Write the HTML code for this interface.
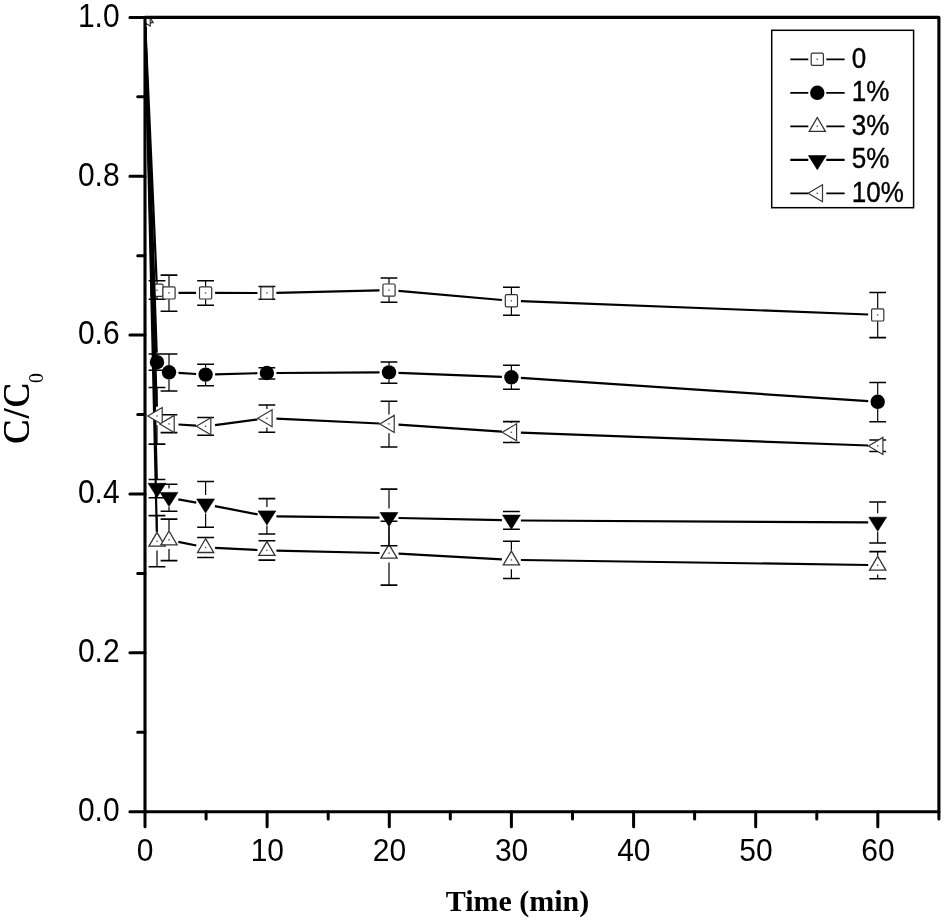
<!DOCTYPE html>
<html><head><meta charset="utf-8"><title>C/C0 vs Time</title>
<style>html,body{margin:0;padding:0;background:#fff}svg{display:block}</style></head>
<body>
<svg width="944" height="921" viewBox="0 0 944 921">
<rect width="944" height="921" fill="#fff"/>
<defs><clipPath id="pc"><rect x="145.0" y="17.4" width="793.9" height="794.3000000000001"/></clipPath></defs>
<g clip-path="url(#pc)">
<path d="M145.4 27.0L156.6 280.7M178.5 292.9L196.1 292.9M215.1 292.9L257.4 293.0M276.4 292.8L379.5 290.3M398.5 290.9L501.9 300.0M520.9 301.2L868.2 314.5" stroke="#000" stroke-width="2.2" fill="none"/>
<path d="M157.0 280.8V283.9M157.0 296.5V299.2M169.0 275.1V286.6M169.0 299.2V311.3M205.6 280.8V286.6M205.6 299.2V305.3M266.9 286.5V286.7M389.0 277.9V283.8M389.0 296.4V302.2M511.4 287.3V294.5M511.4 307.1V315.2M877.7 292.4V308.6M877.7 321.2V337.6" stroke="#000" stroke-width="1.2" fill="none"/>
<path d="M148.6 280.8H165.4M148.6 299.2H165.4M160.6 275.1H177.4M160.6 311.3H177.4M197.2 280.8H214.0M197.2 305.3H214.0M258.5 286.5H275.3M258.5 299.3H275.3M380.6 277.9H397.4M380.6 302.2H397.4M503.0 287.3H519.8M503.0 315.2H519.8M869.3 292.4H886.1M869.3 337.6H886.1" stroke="#000" stroke-width="1.55" fill="none"/>
<rect x="138.9" y="11.4" width="12.2" height="12.2" rx="1.3" fill="#fff" stroke="#333" stroke-width="1.2"/><rect x="144.3" y="16.8" width="1.4" height="1.4" fill="#555"/>
<rect x="150.9" y="284.1" width="12.2" height="12.2" rx="1.3" fill="#fff" stroke="#333" stroke-width="1.2"/><rect x="156.3" y="289.5" width="1.4" height="1.4" fill="#555"/>
<rect x="162.9" y="286.8" width="12.2" height="12.2" rx="1.3" fill="#fff" stroke="#333" stroke-width="1.2"/><rect x="168.3" y="292.2" width="1.4" height="1.4" fill="#555"/>
<rect x="199.5" y="286.8" width="12.2" height="12.2" rx="1.3" fill="#fff" stroke="#333" stroke-width="1.2"/><rect x="204.9" y="292.2" width="1.4" height="1.4" fill="#555"/>
<rect x="260.8" y="286.9" width="12.2" height="12.2" rx="1.3" fill="#fff" stroke="#333" stroke-width="1.2"/><rect x="266.2" y="292.3" width="1.4" height="1.4" fill="#555"/>
<rect x="382.9" y="284.0" width="12.2" height="12.2" rx="1.3" fill="#fff" stroke="#333" stroke-width="1.2"/><rect x="388.3" y="289.4" width="1.4" height="1.4" fill="#555"/>
<rect x="505.3" y="294.7" width="12.2" height="12.2" rx="1.3" fill="#fff" stroke="#333" stroke-width="1.2"/><rect x="510.7" y="300.1" width="1.4" height="1.4" fill="#555"/>
<rect x="871.6" y="308.8" width="12.2" height="12.2" rx="1.3" fill="#fff" stroke="#333" stroke-width="1.2"/><rect x="877.0" y="314.2" width="1.4" height="1.4" fill="#555"/>
<path d="M145.3 27.0L156.7 352.7M178.5 372.9L196.1 374.0M215.1 374.4L257.4 373.2M276.4 373.0L379.5 372.4M398.5 372.8L501.9 376.9M520.9 377.9L868.2 401.2" stroke="#000" stroke-width="2.2" fill="none"/>
<path d="M157.0 354.0V355.0M157.0 369.4V370.2M169.0 354.0V365.1M169.0 379.5V390.9M205.6 364.3V367.4M205.6 381.8V385.8M389.0 361.9V365.2M389.0 379.6V383.3M511.4 365.2V370.1M511.4 384.5V389.2M877.7 382.4V394.6M877.7 409.0V421.8" stroke="#000" stroke-width="1.2" fill="none"/>
<path d="M148.6 354.0H165.4M148.6 370.2H165.4M160.6 354.0H177.4M160.6 390.9H177.4M197.2 364.3H214.0M197.2 385.8H214.0M258.5 367.8H275.3M258.5 378.9H275.3M380.6 361.9H397.4M380.6 383.3H397.4M503.0 365.2H519.8M503.0 389.2H519.8M869.3 382.4H886.1M869.3 421.8H886.1" stroke="#000" stroke-width="1.55" fill="none"/>
<circle cx="145.0" cy="17.5" r="7.2" fill="#000"/>
<circle cx="157.0" cy="362.2" r="7.2" fill="#000"/>
<circle cx="169.0" cy="372.3" r="7.2" fill="#000"/>
<circle cx="205.6" cy="374.6" r="7.2" fill="#000"/>
<circle cx="266.9" cy="373.0" r="7.2" fill="#000"/>
<circle cx="389.0" cy="372.4" r="7.2" fill="#000"/>
<circle cx="511.4" cy="377.3" r="7.2" fill="#000"/>
<circle cx="877.7" cy="401.8" r="7.2" fill="#000"/>
<path d="M145.2 27.0L156.8 531.7M178.3 541.8L196.3 545.5M215.1 547.9L257.4 550.0M276.4 550.6L379.5 553.0M398.5 553.7L501.9 559.4M520.9 560.0L868.2 565.0" stroke="#000" stroke-width="2.2" fill="none"/>
<path d="M157.0 515.6V531.9M157.0 550.5V566.8M169.0 519.1V530.5M169.0 549.1V560.6M205.6 537.5V538.2M205.6 556.8V557.4M266.9 540.7V541.1M266.9 559.7V560.1M389.0 521.3V543.9M389.0 562.5V585.1M511.4 541.3V550.6M511.4 569.2V578.4M877.7 551.6V555.8M877.7 574.4V578.7" stroke="#000" stroke-width="1.2" fill="none"/>
<path d="M148.6 515.6H165.4M148.6 566.8H165.4M160.6 519.1H177.4M160.6 560.6H177.4M197.2 537.5H214.0M197.2 557.4H214.0M258.5 540.7H275.3M258.5 560.1H275.3M380.6 521.3H397.4M380.6 585.1H397.4M503.0 541.3H519.8M503.0 578.4H519.8M869.3 551.6H886.1M869.3 578.7H886.1" stroke="#000" stroke-width="1.55" fill="none"/>
<polygon points="145.0,8.7 153.1,22.5 136.9,22.5" fill="#fff" stroke="#333" stroke-width="1.3"/><rect x="144.3" y="16.8" width="1.4" height="1.4" fill="#555"/>
<polygon points="157.0,532.4 165.1,546.2 148.9,546.2" fill="#fff" stroke="#333" stroke-width="1.3"/><rect x="156.3" y="540.5" width="1.4" height="1.4" fill="#555"/>
<polygon points="169.0,531.0 177.1,544.8 160.9,544.8" fill="#fff" stroke="#333" stroke-width="1.3"/><rect x="168.3" y="539.1" width="1.4" height="1.4" fill="#555"/>
<polygon points="205.6,538.7 213.7,552.5 197.5,552.5" fill="#fff" stroke="#333" stroke-width="1.3"/><rect x="204.9" y="546.8" width="1.4" height="1.4" fill="#555"/>
<polygon points="266.9,541.6 275.0,555.4 258.8,555.4" fill="#fff" stroke="#333" stroke-width="1.3"/><rect x="266.2" y="549.7" width="1.4" height="1.4" fill="#555"/>
<polygon points="389.0,544.4 397.1,558.2 380.9,558.2" fill="#fff" stroke="#333" stroke-width="1.3"/><rect x="388.3" y="552.5" width="1.4" height="1.4" fill="#555"/>
<polygon points="511.4,551.1 519.5,564.9 503.3,564.9" fill="#fff" stroke="#333" stroke-width="1.3"/><rect x="510.7" y="559.2" width="1.4" height="1.4" fill="#555"/>
<polygon points="877.7,556.3 885.8,570.1 869.6,570.1" fill="#fff" stroke="#333" stroke-width="1.3"/><rect x="877.0" y="564.4" width="1.4" height="1.4" fill="#555"/>
<path d="M145.2 27.0L156.8 479.1M178.3 499.4L196.3 502.6M214.9 506.1L257.6 514.4M276.4 516.3L379.5 517.7M398.5 518.0L501.9 520.2M520.9 520.5L868.2 522.4" stroke="#000" stroke-width="2.2" fill="none"/>
<path d="M169.0 484.2V488.4M169.0 507.0V511.2M205.6 481.5V495.0M205.6 513.6V527.2M266.9 498.6V506.9M266.9 525.5V533.9M389.0 489.1V508.5M389.0 527.1V545.8M877.7 502.0V513.2M877.7 531.8V542.9" stroke="#000" stroke-width="1.2" fill="none"/>
<path d="M148.6 479.5H165.4M148.6 497.7H165.4M160.6 484.2H177.4M160.6 511.2H177.4M197.2 481.5H214.0M197.2 527.2H214.0M258.5 498.6H275.3M258.5 533.9H275.3M380.6 489.1H397.4M380.6 545.8H397.4M503.0 511.5H519.8M503.0 529.2H519.8M869.3 502.0H886.1M869.3 542.9H886.1" stroke="#000" stroke-width="1.55" fill="none"/>
<polygon points="145.0,26.3 153.9,12.2 136.1,12.2" fill="#000" stroke="#000" stroke-width="0.6"/>
<polygon points="157.0,497.4 165.9,483.3 148.1,483.3" fill="#000" stroke="#000" stroke-width="0.6"/>
<polygon points="169.0,506.5 177.9,492.4 160.1,492.4" fill="#000" stroke="#000" stroke-width="0.6"/>
<polygon points="205.6,513.1 214.5,499.0 196.7,499.0" fill="#000" stroke="#000" stroke-width="0.6"/>
<polygon points="266.9,525.0 275.8,510.9 258.0,510.9" fill="#000" stroke="#000" stroke-width="0.6"/>
<polygon points="389.0,526.6 397.9,512.5 380.1,512.5" fill="#000" stroke="#000" stroke-width="0.6"/>
<polygon points="511.4,529.2 520.3,515.1 502.5,515.1" fill="#000" stroke="#000" stroke-width="0.6"/>
<polygon points="877.7,531.3 886.6,517.2 868.8,517.2" fill="#000" stroke="#000" stroke-width="0.6"/>
<path d="M145.3 27.0L156.7 406.5M178.5 424.5L196.1 425.7M215.0 425.1L257.5 419.5M276.4 418.7L379.5 423.5M398.5 424.6L501.9 431.6M520.9 432.7L868.2 445.5" stroke="#000" stroke-width="2.2" fill="none"/>
<path d="M157.0 387.4V406.7M157.0 425.3V444.1M266.9 405.0V409.0M266.9 427.6V432.2M389.0 401.3V414.6M389.0 433.2V447.0M511.4 421.6V423.0M511.4 441.6V442.5" stroke="#000" stroke-width="1.2" fill="none"/>
<path d="M148.6 387.4H165.4M148.6 444.1H165.4M160.6 414.7H177.4M160.6 432.6H177.4M197.2 417.5H214.0M197.2 435.3H214.0M258.5 405.0H275.3M258.5 432.2H275.3M380.6 401.3H397.4M380.6 447.0H397.4M503.0 421.6H519.8M503.0 442.5H519.8M869.3 440.0H886.1M869.3 451.4H886.1" stroke="#000" stroke-width="1.55" fill="none"/>
<polygon points="135.8,17.5 150.2,9.0 150.2,26.0" fill="#fff" stroke="#333" stroke-width="1.2"/><rect x="144.3" y="16.8" width="1.4" height="1.4" fill="#555"/>
<polygon points="147.8,416.0 162.2,407.5 162.2,424.5" fill="#fff" stroke="#333" stroke-width="1.2"/><rect x="156.3" y="415.3" width="1.4" height="1.4" fill="#555"/>
<polygon points="159.8,423.9 174.2,415.4 174.2,432.4" fill="#fff" stroke="#333" stroke-width="1.2"/><rect x="168.3" y="423.2" width="1.4" height="1.4" fill="#555"/>
<polygon points="196.4,426.3 210.8,417.8 210.8,434.8" fill="#fff" stroke="#333" stroke-width="1.2"/><rect x="204.9" y="425.6" width="1.4" height="1.4" fill="#555"/>
<polygon points="257.7,418.3 272.1,409.8 272.1,426.8" fill="#fff" stroke="#333" stroke-width="1.2"/><rect x="266.2" y="417.6" width="1.4" height="1.4" fill="#555"/>
<polygon points="379.8,423.9 394.2,415.4 394.2,432.4" fill="#fff" stroke="#333" stroke-width="1.2"/><rect x="388.3" y="423.2" width="1.4" height="1.4" fill="#555"/>
<polygon points="502.2,432.3 516.6,423.8 516.6,440.8" fill="#fff" stroke="#333" stroke-width="1.2"/><rect x="510.7" y="431.6" width="1.4" height="1.4" fill="#555"/>
<polygon points="868.5,445.9 882.9,437.4 882.9,454.4" fill="#fff" stroke="#333" stroke-width="1.2"/><rect x="877.0" y="445.2" width="1.4" height="1.4" fill="#555"/>
</g>
<rect x="145.0" y="17.4" width="793.9" height="794.3000000000001" fill="none" stroke="#000" stroke-width="3.1" stroke-linejoin="round"/>
<path d="M145.0 811.7h-15.1M145.0 732.3h-7.3M145.0 652.8h-15.1M145.0 573.4h-7.3M145.0 494.0h-15.1M145.0 414.6h-7.3M145.0 335.1h-15.1M145.0 255.7h-7.3M145.0 176.3h-15.1M145.0 96.8h-7.3M145.0 17.4h-15.1M145.0 811.7v15.1M206.1 811.7v7.3M267.1 811.7v15.1M328.2 811.7v7.3M389.3 811.7v15.1M450.3 811.7v7.3M511.4 811.7v15.1M572.5 811.7v7.3M633.6 811.7v15.1M694.6 811.7v7.3M755.7 811.7v15.1M816.8 811.7v7.3M877.8 811.7v15.1M938.9 811.7v7.3" stroke="#000" stroke-width="3" fill="none" stroke-linecap="round"/>
<g font-family="Liberation Sans, Arial, sans-serif" font-size="30" fill="#000">
<text transform="translate(119.6,821.0) scale(1,1.08)" text-anchor="end">0.0</text>
<text transform="translate(119.6,662.1) scale(1,1.08)" text-anchor="end">0.2</text>
<text transform="translate(119.6,503.3) scale(1,1.08)" text-anchor="end">0.4</text>
<text transform="translate(119.6,344.4) scale(1,1.08)" text-anchor="end">0.6</text>
<text transform="translate(119.6,185.6) scale(1,1.08)" text-anchor="end">0.8</text>
<text transform="translate(119.6,26.7) scale(1,1.08)" text-anchor="end">1.0</text>
<text transform="translate(145.2,861.0) scale(1,1.07)" text-anchor="middle">0</text>
<text transform="translate(267.3,861.0) scale(1,1.07)" text-anchor="middle">10</text>
<text transform="translate(389.5,861.0) scale(1,1.07)" text-anchor="middle">20</text>
<text transform="translate(511.6,861.0) scale(1,1.07)" text-anchor="middle">30</text>
<text transform="translate(633.8,861.0) scale(1,1.07)" text-anchor="middle">40</text>
<text transform="translate(755.9,861.0) scale(1,1.07)" text-anchor="middle">50</text>
<text transform="translate(878.0,861.0) scale(1,1.07)" text-anchor="middle">60</text>
</g>
<text x="517.5" y="911" text-anchor="middle" font-family="Liberation Serif, Times New Roman, serif" font-weight="bold" font-size="30">Time (min)</text>
<text transform="translate(29.0,444.0) rotate(-90) scale(1,1.04)" font-family="Liberation Serif, Times New Roman, serif" font-size="36" letter-spacing="1.3">C/C</text>
<text transform="translate(29.0,443.3) rotate(-90) scale(1,1.04)" font-family="Liberation Serif, Times New Roman, serif" font-size="36" letter-spacing="1.3">C/C</text>
<text transform="translate(43.2,382.9) rotate(-90) scale(0.9,1.0)" font-family="Liberation Serif, Times New Roman, serif" font-size="22">0</text>
<rect x="771.7" y="30.3" width="141.9" height="177.4" fill="#fff" stroke="#000" stroke-width="1.5"/>
<path d="M790.3 59.3H808.3M826.3 59.3H844.6" stroke="#000" stroke-width="1.7"/>
<rect x="811.2" y="53.2" width="12.2" height="12.2" rx="1.3" fill="#fff" stroke="#333" stroke-width="1.2"/><rect x="816.6" y="58.6" width="1.4" height="1.4" fill="#555"/>
<text transform="translate(851.8,67.9) scale(1,1.105)" font-family="Liberation Sans, Arial, sans-serif" font-size="26" stroke="#000" stroke-width="0.35">0</text>
<path d="M790.3 92.8H808.3M826.3 92.8H844.6" stroke="#000" stroke-width="1.7"/>
<circle cx="817.3" cy="92.8" r="7.2" fill="#000"/>
<text transform="translate(851.8,101.4) scale(1,1.105)" font-family="Liberation Sans, Arial, sans-serif" font-size="26" stroke="#000" stroke-width="0.35">1%</text>
<path d="M790.3 126.3H808.3M826.3 126.3H844.6" stroke="#000" stroke-width="1.7"/>
<polygon points="817.3,117.5 825.4,131.3 809.2,131.3" fill="#fff" stroke="#333" stroke-width="1.3"/><rect x="816.6" y="125.6" width="1.4" height="1.4" fill="#555"/>
<text transform="translate(851.8,134.9) scale(1,1.105)" font-family="Liberation Sans, Arial, sans-serif" font-size="26" stroke="#000" stroke-width="0.35">3%</text>
<path d="M790.3 159.8H808.3M826.3 159.8H844.6" stroke="#000" stroke-width="2.2"/>
<polygon points="817.3,169.7 826.2,155.6 808.4,155.6" fill="#000" stroke="#000" stroke-width="0.6"/>
<text transform="translate(851.8,168.4) scale(1,1.105)" font-family="Liberation Sans, Arial, sans-serif" font-size="26" stroke="#000" stroke-width="0.35">5%</text>
<path d="M790.3 193.3H808.3M826.3 193.3H844.6" stroke="#000" stroke-width="1.7"/>
<polygon points="808.1,193.3 822.5,184.8 822.5,201.8" fill="#fff" stroke="#333" stroke-width="1.2"/><rect x="816.6" y="192.6" width="1.4" height="1.4" fill="#555"/>
<text transform="translate(851.8,201.9) scale(1,1.105)" font-family="Liberation Sans, Arial, sans-serif" font-size="26" stroke="#000" stroke-width="0.35">10%</text>
</svg>
</body></html>
